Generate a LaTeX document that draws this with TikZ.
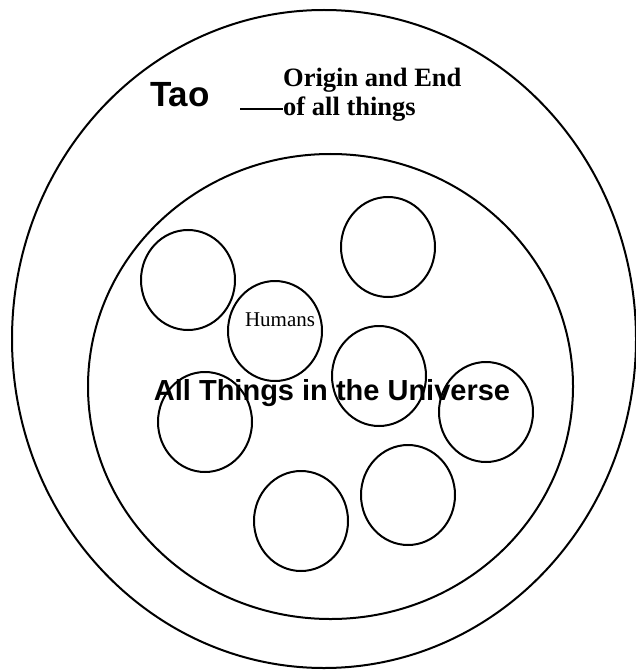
\documentclass[tikz,border=0pt]{standalone}
\usepackage{fontspec}
\setmainfont{Liberation Serif}
\setsansfont{Liberation Sans}
\usetikzlibrary{shapes.geometric,positioning}

\begin{document}
\begin{tikzpicture}[
  x=1pt, y=-1pt,
  ring/.style={draw, ellipse, line width=2pt, inner sep=0pt},
  thing/.style={ring, minimum width=94pt, minimum height=100pt},
  bigsans/.style={font=\sffamily\bfseries\fontsize{#1}{#1}\selectfont, inner sep=0pt},
  serif/.style={font=\rmfamily\fontsize{#1}{#1}\selectfont, inner sep=0pt},
  boldserif/.style={font=\rmfamily\bfseries\fontsize{#1}{#1}\selectfont, inner sep=0pt}
]
  \useasboundingbox (0,0) rectangle (635,671);

  % Tao and the universe
  \node[ring, minimum width=624pt, minimum height=658pt] (tao) at (324,339) {};
  \node[ring, minimum width=485pt, minimum height=465pt] (universe) at (330.5,386.5) {};

  % things in the universe
  \node[thing] (thingA) at (188,280) {};
  \node[thing] (thingB) at (388,247) {};
  \node[thing] (humans) at (275,331) {};
  \node[thing] (thingC) at (379,376) {};
  \node[thing] (thingD) at (205,422) {};
  \node[thing] (thingE) at (486,412) {};
  \node[thing] (thingF) at (408,495) {};
  \node[thing] (thingG) at (301,521) {};

  % labels
  \node[serif=21, anchor=base] (humanslabel) at (280,326) {Humans};
  \node[bigsans=29, anchor=base] (universelabel) at (332,400) {All Things in the Universe};
  \node[bigsans=35, anchor=base west] (taolabel) at (150,107) {Tao};
  \node[boldserif=26.5, anchor=base west] (origin) at (283,87) {Origin and End};
  \node[boldserif=26.5, anchor=base west] (allthings) at (283,116) {of all things};
  \coordinate (dashstart) at (240,109);
  \draw[line width=1.5pt] (dashstart) -- (allthings.west |- dashstart);
\end{tikzpicture}
\end{document}
